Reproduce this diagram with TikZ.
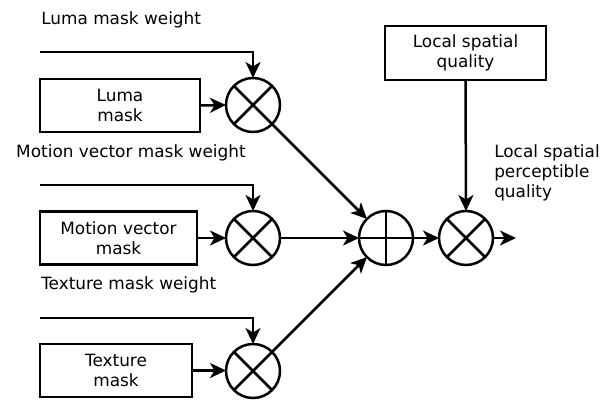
\documentclass[tikz,border=0pt]{standalone}
\usepackage{fontspec}
\setmainfont{DejaVu Sans}
\usetikzlibrary{arrows.meta}
\begin{document}
\begin{tikzpicture}[x=1pt,y=-1pt,
  font=\fontsize{16.9}{20}\selectfont,
  every path/.style={line width=2.5pt},
  arr/.style={-{Stealth[length=16pt,width=15pt,inset=4.5pt]}},
  box/.style={draw,line width=2.5pt,rectangle,inner sep=0pt,outer sep=0pt,align=center,minimum height=53pt},
  op/.style={draw,line width=2.5pt,circle,minimum size=54pt,inner sep=0pt,outer sep=0pt},
  lab/.style={anchor=west,inner sep=0pt,align=left}]
\useasboundingbox (0,0) rectangle (610,399);

% labels
\node[lab] (t1) at (40,20) {Luma mask weight};
\node[lab] (t2) at (15,153) {Motion vector mask weight};
\node[lab] (t3) at (40,285) {Texture mask weight};
\node[lab] (tout) at (493,173) {Local spatial\\perceptible\\quality};

% boxes
\node[box,minimum width=160pt] (b1) at (120,105.5) {Luma\\mask};
\node[box,minimum width=157pt] (b2) at (118.5,238) {Motion vector\\mask};
\node[box,minimum width=152pt] (b3) at (116,370.5) {Texture\\mask};
\node[box,minimum width=161pt,minimum height=54pt] (lsq) at (465.5,53) {Local spatial\\quality};

% operators
\node[op] (c1) at (253,105) {};
\node[op] (c2) at (253,238) {};
\node[op] (c3) at (253,371) {};
\node[op] (pl) at (386,238) {};
\node[op] (cx) at (466,238) {};
\foreach \n in {c1,c2,c3,cx}{
  \draw (\n.north west) -- (\n.south east);
  \draw (\n.north east) -- (\n.south west);
}
\draw (pl.north) -- (pl.south);
\draw (pl.west) -- (pl.east);

% weight inputs
\coordinate (w1) at (40,52);
\coordinate (w2) at (40,185);
\coordinate (w3) at (40,318);
\draw[arr] (w1) -| (c1.north);
\draw[arr] (w2) -| (c2.north);
\draw[arr] (w3) -| (c3.north);

% mask inputs
\draw[arr] (b1.east) -- (c1.west);
\draw[arr] (b2.east) -- (c2.west);
\draw[arr] (b3.east) -- (c3.west |- b3.east);

% to sum
\draw[arr] (c1) -- (pl);
\draw[arr] (c2) -- (pl);
\draw[arr] (c3) -- (pl);
\draw[arr] (pl) -- (cx);
\draw[arr] (lsq.south) -- (cx.north);

% output
\coordinate (out) at (516,238);
\draw[arr] (cx.east) -- (out);
\end{tikzpicture}
\end{document}
